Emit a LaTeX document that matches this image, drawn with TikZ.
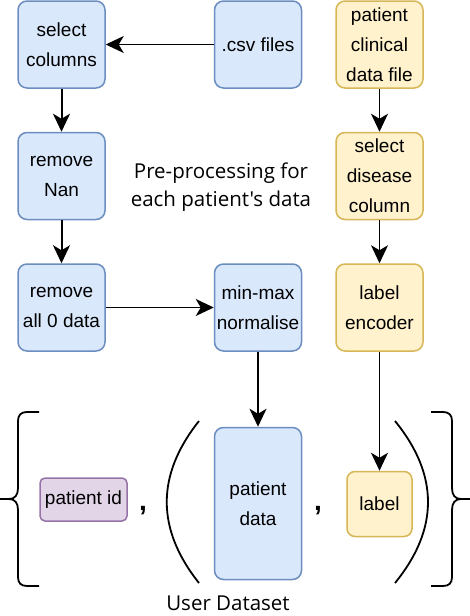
\documentclass[tikz,border=0pt]{standalone}
\usepackage{fontspec}
\setmainfont{Liberation Sans}
\newfontfamily\labelfont{Open Sans}
\usetikzlibrary{arrows.meta, positioning}
\definecolor{nodeblue}{HTML}{DAE8FC}
\definecolor{edgeblue}{HTML}{6C8EBF}
\definecolor{nodeyellow}{HTML}{FFF2CC}
\definecolor{edgeyellow}{HTML}{D6B656}
\definecolor{nodepurple}{HTML}{E1D5E7}
\definecolor{edgepurple}{HTML}{9673A6}

\begin{document}
\begin{tikzpicture}[
  x=1pt, y=-1pt,
  font=\fontsize{19}{30}\selectfont,
  >={Stealth[length=18pt, width=17pt, inset=5pt]},
  procbox/.style={
    rectangle, rounded corners=9pt,
    minimum width=87pt, minimum height=87pt,
    inner sep=0pt, align=center,
    line width=1.5pt
  },
  bluebox/.style={procbox, fill=nodeblue, draw=edgeblue},
  yellowbox/.style={procbox, fill=nodeyellow, draw=edgeyellow},
  freelabel/.style={
    font=\labelfont\fontsize{20.5}{28}\selectfont, align=center
  },
  commalabel/.style={
    font=\fontsize{28}{30}\selectfont\bfseries, anchor=base, inner sep=0pt
  },
  connector/.style={->, line width=2pt},
  thinconnector/.style={->, line width=1.3pt},
  bracket/.style={line width=1.8pt}
]
\useasboundingbox (0,0) rectangle (470,616);

% ── Patient data column ──────────────────────────────────────────────────
\node[bluebox] (select) at (61.5,44.5) {select\\columns};
\node[bluebox, right=108pt of select] (csv) {.csv files};
\node[bluebox, below=43pt of select] (nan) {remove\\Nan};
\node[bluebox, below=43pt of nan] (zero) {remove\\all 0 data};
\node[bluebox, right=108pt of zero] (norm) {min-max\\normalise};

% ── Clinical data column ─────────────────────────────────────────────────
\node[yellowbox, right=33pt of csv] (clinical) {patient\\clinical\\data file};
\node[yellowbox, below=43pt of clinical] (disease) {select\\disease\\column};
\node[yellowbox, below=43pt of disease] (encoder) {label\\encoder};

\node[freelabel] (pretext) at (221,187)
  {Pre-processing for\\each patient's data};

% ── User dataset ─────────────────────────────────────────────────────────
\node[bluebox, minimum height=152pt, below=75pt of norm] (pdata)
  {patient\\data};
\node[yellowbox, minimum width=65pt, minimum height=65pt, rounded corners=8pt,
      below=119pt of encoder] (label) {label};
\node[procbox, fill=nodepurple, draw=edgepurple, rounded corners=5pt,
      minimum height=43pt] (pid) at (83.5,499.5) {patient id};

\node[commalabel] (comma1) at (143,510) {,};
\node[commalabel] (comma2) at (318,510) {,};

\node[freelabel] (dataset) at (228,603) {User Dataset};

% ── Arrows ───────────────────────────────────────────────────────────────
\draw[thinconnector] (csv.west) -- (select.east);
\draw[connector] (select.south) -- (nan.north);
\draw[connector] (nan.south) -- (zero.north);
\draw[thinconnector] (zero.east) -- (norm.west);
\draw[connector] (norm.south) -- (pdata.north);
\draw[thinconnector] (clinical.south) -- (disease.north);
\draw[thinconnector] (disease.south) -- (encoder.north);
\draw[thinconnector] (encoder.south) -- (label.north);

% ── Brackets ─────────────────────────────────────────────────────────────
\draw[bracket] (199,421) .. controls (156,475) and (156,529) .. (199,583);
\draw[bracket] (395,421) .. controls (439,475) and (439,529) .. (395,583);

\draw[bracket] (39,412) -- (27,412) .. controls (21,412) and (18,415) .. (18,421)
  -- (18,488) .. controls (18,495) and (15,499) .. (9,499) -- (0,499);
\draw[bracket] (0,499) -- (9,499) .. controls (15,499) and (18,503) .. (18,510)
  -- (18,577) .. controls (18,583) and (21,586) .. (27,586) -- (39,586);
\draw[bracket] (431,412) -- (443,412) .. controls (449,412) and (452,415) .. (452,421)
  -- (452,488) .. controls (452,495) and (455,499) .. (461,499) -- (470,499);
\draw[bracket] (470,499) -- (461,499) .. controls (455,499) and (452,503) .. (452,510)
  -- (452,577) .. controls (452,583) and (449,586) .. (443,586) -- (431,586);

\end{tikzpicture}
\end{document}
